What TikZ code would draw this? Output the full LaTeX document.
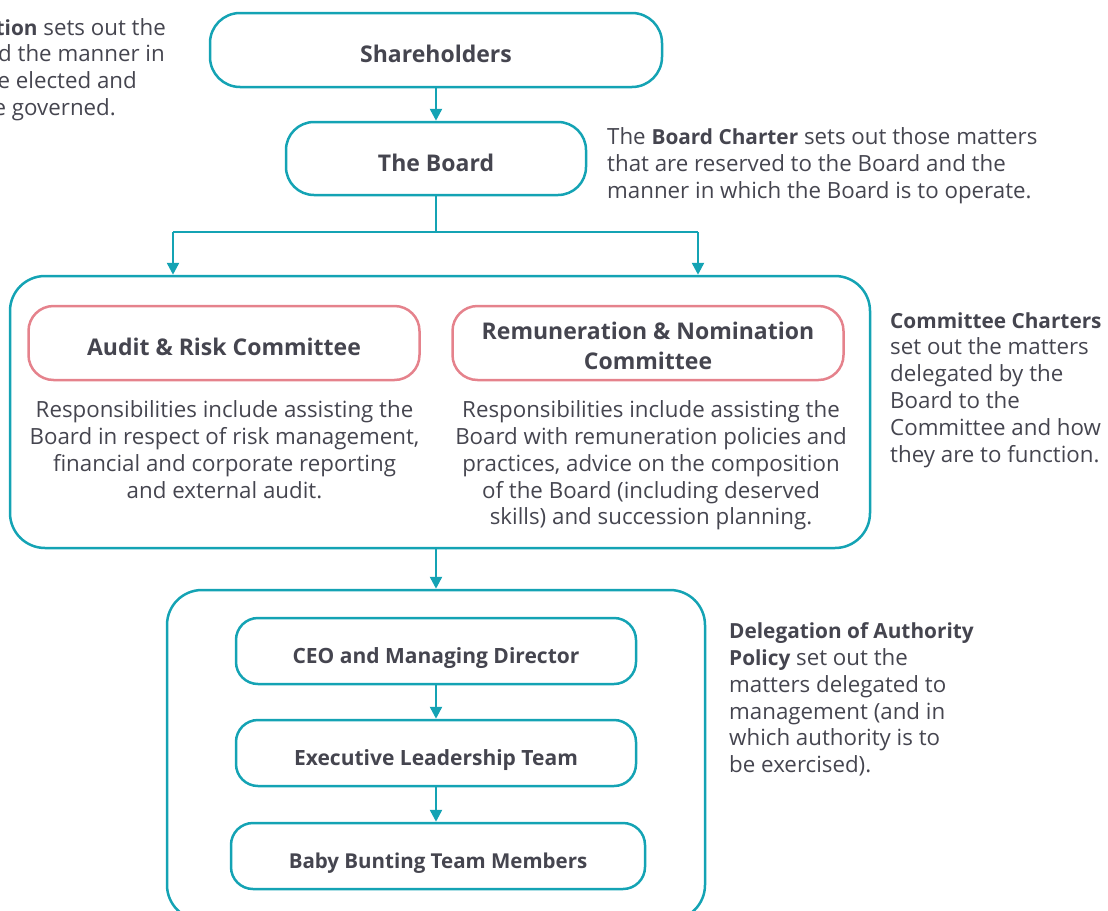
\documentclass[tikz,border=0pt]{standalone}
\usepackage{fontspec}
\setmainfont{Open Sans}
\usetikzlibrary{arrows.meta}
\definecolor{tealc}{HTML}{14A3B4}
\definecolor{pinkc}{HTML}{E5828C}
\definecolor{txtc}{HTML}{45454F}
\newcommand{\bb}[1]{{\fontsize{20.8}{26.8}\selectfont\bfseries #1}}
\begin{document}
\begin{tikzpicture}[x=1pt,y=-1pt,
  lab/.style={font=\fontsize{23}{30}\selectfont\bfseries, text=txtc, align=center},
  labs/.style={font=\fontsize{21}{30}\selectfont\bfseries},
  body/.style={font=\fontsize{22.3}{26.8}\selectfont, text=txtc, inner sep=0pt},
  tbox/.style={lab, draw=tealc, line width=2.5pt, text height=25.6pt, text depth=0pt, inner sep=0pt},
  pbox/.style={lab, draw=pinkc, line width=2.5pt, inner sep=0pt, rounded corners=25pt, minimum width=391pt, minimum height=74pt},
  frame/.style={draw=tealc, line width=2.5pt, rounded corners=35pt, inner sep=0pt},
  arr/.style={draw=tealc, line width=2.5pt, -{Triangle[length=12pt,width=12pt]}},
  conn/.style={draw=tealc, line width=2.5pt}
]
\useasboundingbox (0,0) rectangle (1108,910);
\clip (0,0) rectangle (1108,910);

% top-left partial text
\node[body, anchor=base east] (c1) at (166,35) {The \bb{Constitution} sets out the};
\node[body, anchor=base east] (c2) at (165,61.8) {and the manner in};
\node[body, anchor=base east] (c3) at (137,88.6) {be elected and};
\node[body, anchor=base east] (c4) at (116,115.4) {be governed.};

% main chain
\node[tbox, rounded corners=30pt, minimum width=452pt, minimum height=74pt] (sh) at (436,50) {Shareholders};
\node[tbox, rounded corners=28pt, minimum width=300pt, minimum height=73pt] (bd) at (436,158.5) {The Board};

\node[body, anchor=north west, align=left] (bc) at (607,127.5) {The \bb{Board Charter} sets out those matters\\that are reserved to the Board and the\\manner in which the Board is to operate.};

% committee frame
\node[frame, minimum width=860pt, minimum height=272pt] (cbox) at (440,412) {};
\node[pbox] (ar) at (224,343) {\rule{0pt}{25.6pt}Audit \& Risk Committee};
\node[pbox] (rn) at (648,343) {\rule{0pt}{24pt}Remuneration \& Nomination\\Committee};
\node[body, anchor=north, align=center] (art) at (224.5,400.5) {Responsibilities include assisting the\\Board in respect of risk management,\\financial and corporate reporting\\and external audit.};
\node[body, anchor=north, align=center] (rnt) at (651,400.5) {Responsibilities include assisting the\\Board with remuneration policies and\\practices, advice on the composition\\of the Board (including deserved\\skills) and succession planning.};

\node[body, anchor=north west, align=left] (cc) at (890,312) {\bb{Committee Charters}\\set out the matters\\delegated by the\\Board to the\\Committee and how\\they are to function.};

% management frame
\node[frame, minimum width=538pt, minimum height=330pt] (mbox) at (436,755) {};
\node[tbox, labs, rounded corners=22pt, minimum width=400pt, minimum height=66pt] (ceo) at (436,651) {CEO and Managing Director};
\node[tbox, labs, rounded corners=22pt, minimum width=400pt, minimum height=66pt] (elt) at (436,753) {Executive Leadership Team};
\node[tbox, labs, font=\fontsize{20.5}{30}\selectfont\bfseries, rounded corners=22pt, minimum width=414pt, minimum height=66pt] (bbt) at (438,856) {Baby Bunting Team Members};

\node[body, anchor=north west, align=left] (doa) at (729,622.5) {\bb{Delegation of Authority}\\\bb{Policy} set out the\\matters delegated to\\management (and in\\which authority is to\\be exercised).};

% connectors
\coordinate (cl) at (173,232);
\coordinate (cr) at (698,232);
\draw[arr] (sh) -- (bd);
\draw[conn] (bd.south) -- (bd.south |- cl);
\draw[conn] (cl) -- (cr);
\draw[arr] (cl) -- (cl |- cbox.north);
\draw[arr] (cr) -- (cr |- cbox.north);
\draw[arr] (cbox.south -| mbox.north) -- (mbox.north);
\draw[arr] (ceo) -- (elt);
\draw[arr] (elt) -- (elt.south |- bbt.north);
\end{tikzpicture}
\end{document}
